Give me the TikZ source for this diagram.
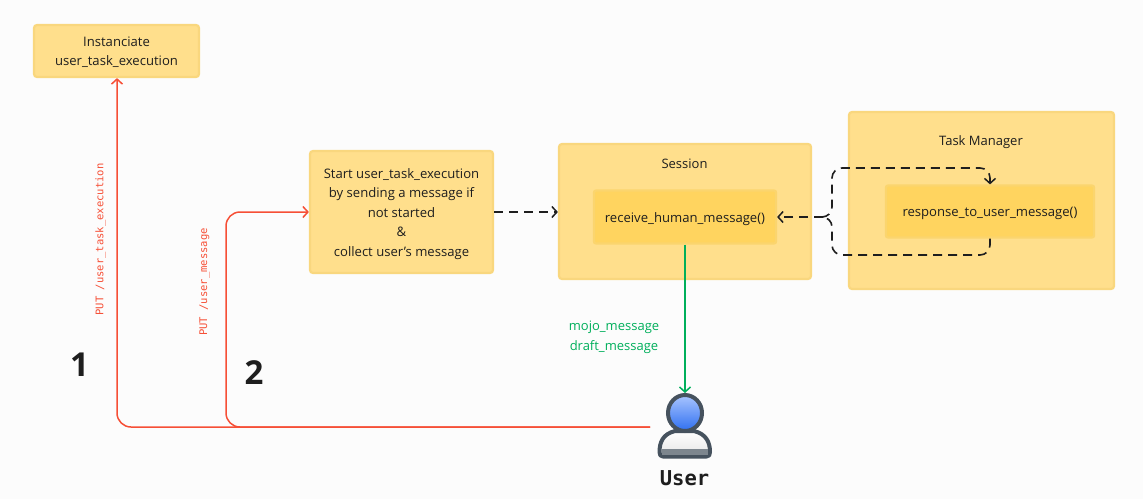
\documentclass[tikz,border=0pt]{standalone}
\usepackage{fontspec}
\setmainfont{Open Sans}
\setmonofont{DejaVu Sans Mono}
\usetikzlibrary{arrows.meta,calc}
\definecolor{boxfill}{HTML}{FFDF8C}
\definecolor{boxline}{HTML}{F9D77E}
\definecolor{innerfill}{HTML}{FFD45F}
\definecolor{innerline}{HTML}{FBD56E}
\definecolor{redline}{HTML}{F64F36}
\definecolor{greenline}{HTML}{00AF5B}
\definecolor{ink}{HTML}{1E1E1E}
\definecolor{iconline}{HTML}{46525E}
\definecolor{headtop}{HTML}{A9C5FF}
\definecolor{headbottom}{HTML}{2F6FF0}
\newcommand{\dn}[1]{\raisebox{-1.2pt}[\height][\depth]{\begin{tabular}{@{}c@{}}#1\end{tabular}}}
\tikzset{
  x=1pt,y=-1pt,
  barb/.style={-{Straight Barb[length=5pt,width=11pt,line width=1.5pt]}},
  yellowbox/.style={draw=boxline,line width=2.2pt,fill=boxfill,rounded corners=3pt,inner sep=0pt,align=center,text=ink,font=\fontsize{13.1}{19.5}\selectfont},
  innerbox/.style={draw=innerline,line width=2.2pt,fill=innerfill,rounded corners=2pt,inner sep=0pt,align=center,text=ink,font=\fontsize{13.1}{19.5}\selectfont},
  redarrow/.style={draw=redline,line width=1.5pt,rounded corners=14pt,barb},
  greenarrow/.style={draw=greenline,line width=1.5pt,barb},
  dasharrow/.style={draw=ink,line width=1.6pt,dash pattern=on 9pt off 6pt,rounded corners=10pt},
  redlabel/.style={text=redline,font=\ttfamily\fontsize{10.5}{12}\selectfont,rotate=90,inner sep=0pt},
  greenlabel/.style={text=greenline,font=\fontsize{13}{15}\selectfont,inner sep=0pt},
  bignum/.style={text=ink,font=\bfseries\fontsize{33}{36}\selectfont,inner sep=0pt},
  titletext/.style={text=ink,font=\fontsize{13}{15}\selectfont,inner sep=0pt},
}
\begin{document}
\begin{tikzpicture}
\useasboundingbox[fill=white!99!black] (0,0) rectangle (1143,499);
% boxes
\node[yellowbox,minimum width=165pt,minimum height=52pt] (inst) at (116.5,51) {\dn{Instanciate\\user\_task\_execution}};
\node[yellowbox,minimum width=183pt,minimum height=122pt] (start) at (401.5,212) {\dn{Start user\_task\_execution\\by sending a message if\\not started\\\&\\collect user's message}};
\node[yellowbox,minimum width=252pt,minimum height=135pt] (session) at (685,211.5) {};
\node[titletext] (sessiontitle) at (684.5,163.5) {Session};
\node[innerbox,minimum width=182pt,minimum height=53pt] (receive) at (685,217) {\dn{receive\_human\_message()}};
\node[yellowbox,minimum width=265pt,minimum height=177pt] (tm) at (981.5,200.5) {};
\node[titletext] (tmtitle) at (981,142.5) {Task Manager};
\node[innerbox,minimum width=208pt,minimum height=52pt] (response) at (990,211.5) {\dn{response\_to\_user\_message()}};
% user icon
\path[draw=iconline,line width=4pt,line join=round,top color=white,bottom color=white!80!gray]
  (675,431) .. controls (663,434) and (659.5,442) .. (659.5,452) .. controls (659.5,455) and (660.5,456.5) .. (663,456.5)
  -- (706.5,456.5) .. controls (709,456.5) and (710,455) .. (710,452) .. controls (710,442) and (706,434) .. (694,431) -- cycle;
\fill[iconline!70!white] (661.5,449) -- (708,449) -- (708,454.5) -- (661.5,454.5) -- cycle;
\path[draw=iconline,line width=4pt,top color=headtop,bottom color=headbottom]
  (685,413) ellipse [x radius=17,y radius=18];
\coordinate (userline) at (650,427);
\coordinate (usertop) at (685,393);
\coordinate (redA) at (117,427);
\coordinate (redB) at (226,427);
\coordinate (redC) at (226,212);
\node[inner sep=0pt,text=ink,font=\ttfamily\bfseries\fontsize{20.5}{24}\selectfont] (usertext) at (684.5,478) {User};
% connectors
\draw[redarrow] (userline) -- (redA) -- (redA |- inst.south);
\draw[redarrow] (userline) -- (redB) -- (redC) -- (start.west);
\draw[greenarrow] (receive.south) -- (usertop);
\draw[dasharrow,barb] (start.east) -- (session.west |- start.east);
% dashed fork
\coordinate (fork) at (823,217);
\coordinate (forkv) at (832,217);
\coordinate (loopt) at (832,168);
\coordinate (loopb) at (832,255);
\coordinate (rightx) at (990,217);
\draw[dasharrow,barb] (fork) -- (receive.east |- fork);
\draw[dasharrow] (rightx |- response.south) -- (rightx |- loopb) -- (loopb) -- (forkv) -- (fork);
\draw[dasharrow,barb] (fork) -- (forkv) -- (loopt) -- (rightx |- loopt) -- (rightx |- response.north);
% labels
\node[redlabel] (lab1) at (100.5,239.5) {PUT /user\_task\_execution};
\node[redlabel] (lab2) at (204.5,282) {PUT /user\_message};
\node[bignum] (n1) at (79.5,364.5) {1};
\node[bignum] (n2) at (254,372.5) {2};
\node[greenlabel] (m1) at (614,327.5) {mojo\_message};
\node[greenlabel] (m2) at (614,347) {draft\_message};
\end{tikzpicture}
\end{document}
